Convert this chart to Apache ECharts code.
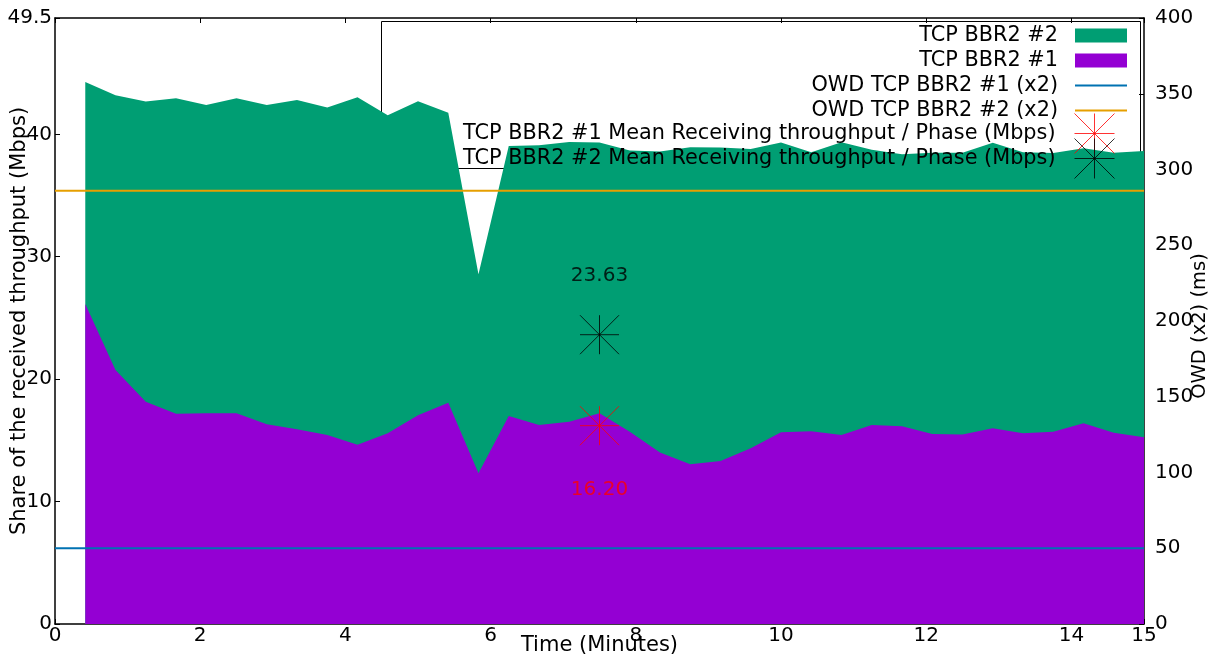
<!DOCTYPE html>
<html>
<head>
<meta charset="utf-8">
<title>TCP BBR2 share of received throughput</title>
<script src="https://cdn.jsdelivr.net/npm/echarts@6/dist/echarts.min.js"></script>
<style>
    html, body { margin: 0; padding: 0; background: #fff; }
    #chart { width: 1212px; height: 657px; }
</style>
</head>
<body>
<div id="chart"></div>
<script>
    // sample times (minutes)
    const times = [0.417, 0.833, 1.25, 1.667, 2.083, 2.5, 2.917, 3.333, 3.75, 4.167, 4.583, 5,
        5.417, 5.833, 6.25, 6.667, 7.083, 7.5, 7.917, 8.333, 8.75, 9.167, 9.583, 10,
        10.417, 10.833, 11.25, 11.667, 12.083, 12.5, 12.917, 13.333, 13.75, 14.167, 14.583, 15]

    // received throughput (Mbps)
    const bbr1 = [26.14, 20.75, 18.16, 17.18, 17.21, 17.21, 16.31, 15.9, 15.44, 14.65, 15.58, 17.05,
        18.08, 12.31, 16.99, 16.26, 16.53, 17.21, 15.71, 14.0, 13.05, 13.32, 14.35, 15.66,
        15.74, 15.44, 16.26, 16.15, 15.52, 15.47, 15.99, 15.58, 15.71, 16.4, 15.63, 15.25]
    const bbr2 = [18.14, 22.45, 24.51, 25.76, 25.19, 25.73, 26.09, 26.9, 26.74, 28.38, 25.97, 25.65,
        23.69, 16.26, 22.06, 22.84, 22.85, 22.12, 22.96, 24.6, 25.89, 25.6, 24.45, 23.67,
        22.79, 23.91, 22.47, 22.22, 22.98, 23.03, 23.31, 22.95, 22.77, 22.46, 22.87, 23.39]

    // one way delay x2 (ms)
    const owdTimes = [0, 15]
    const owd1 = [50, 50]
    const owd2 = [286, 286]

    // mean receiving throughput per phase (Mbps)
    const phaseMid = [7.5]
    const mean1 = [16.20]
    const mean2 = [23.63]

    const names = ['TCP BBR2 #2', 'TCP BBR2 #1', 'OWD TCP BBR2 #1 (x2)', 'OWD TCP BBR2 #2 (x2)',
        'TCP BBR2 #1 Mean Receiving throughput / Phase (Mbps)',
        'TCP BBR2 #2 Mean Receiving throughput / Phase (Mbps)']

    const font = 'DejaVu Sans'
    const star = 'path://M20,0V40M0,20H40M0,0L40,40M0,40L40,0'
    const zip = (xs, ys) => xs.map((x, i) => [x, ys[i]])
    // #2 is stacked on top of #1: draw the total behind, #1 in front
    const total = bbr1.map((v, i) => +(v + bbr2[i]).toFixed(2))

    const axisCommon = {
        nameLocation: 'middle',
        nameMoveOverlap: false,
        nameTextStyle: { fontSize: 21, color: '#000', fontFamily: font },
        axisLine: { show: true, onZero: false, lineStyle: { color: '#000', width: 1.5 } },
        axisTick: { show: true, inside: true, length: 5, lineStyle: { color: '#000', width: 1 } },
        axisLabel: { fontSize: 20, color: '#000', fontFamily: font },
        splitLine: { show: false }
    }

    const chart = echarts.init(document.getElementById('chart'))
    const option = {
        animation: false,
        textStyle: { fontFamily: font },
        grid: { left: 55, right: 68, top: 18, bottom: 33, outerBoundsMode: 'none', containLabel: false },
        graphic: [{
            type: 'rect', z: 0,
            shape: { x: 381.5, y: 21.5, width: 759, height: 147 },
            style: { fill: 'none', stroke: '#000', lineWidth: 1 }
        }],
        legend: [{
            orient: 'vertical', align: 'right', right: 85, top: 25, padding: 0, itemGap: 4,
            itemWidth: 64, itemHeight: 14,
            textStyle: { fontSize: 20.8, color: '#000', fontFamily: font },
            itemStyle: { borderWidth: 0 },
            data: [
                { name: names[0], icon: 'path://M0,7L0,7M12,0H64V14H12Z' },
                { name: names[1], icon: 'path://M0,7L0,7M12,0H64V14H12Z' },
                { name: names[2], icon: 'path://M0,7L0,7M12,6H64V8H12Z' },
                { name: names[3], icon: 'path://M0,7L0,7M12,6H64V8H12Z' }
            ]
        }, {
            orient: 'vertical', align: 'right', right: 95, top: 111, padding: 0, itemGap: -20,
            itemWidth: 54, itemHeight: 40,
            textStyle: { fontSize: 20.8, color: '#000', fontFamily: font },
            data: [
                { name: names[4], icon: 'path://M0,20L0,20M34,0V40M14,20H54M14,0L54,40M14,40L54,0',
                  itemStyle: { color: 'none', borderColor: '#ff0000', borderWidth: 1 } },
                { name: names[5], icon: 'path://M0,20L0,20M34,0V40M14,20H54M14,0L54,40M14,40L54,0',
                  itemStyle: { color: 'none', borderColor: '#000000', borderWidth: 1 } }
            ]
        }],
        xAxis: [
            Object.assign({}, axisCommon, {
                type: 'value', position: 'bottom', min: 0, max: 15, interval: 2,
                name: 'Time (Minutes)', nameGap: 11,
                axisLabel: Object.assign({}, axisCommon.axisLabel, { margin: 2 })
            }),
            Object.assign({}, axisCommon, {
                type: 'value', position: 'top', min: 0, max: 15, interval: 2,
                axisLabel: { show: false }
            })
        ],
        yAxis: [
            Object.assign({}, axisCommon, {
                type: 'value', position: 'left', min: 0, max: 49.5, interval: 10,
                name: 'Share of the received throughput (Mbps)', nameGap: 25,
                axisLabel: Object.assign({}, axisCommon.axisLabel, { margin: 3 })
            }),
            Object.assign({}, axisCommon, {
                type: 'value', position: 'right', min: 0, max: 400, interval: 50,
                name: 'OWD (x2) (ms)', nameGap: 46,
                nameTextStyle: { fontSize: 19.5, color: '#000', fontFamily: font, padding: [0, 10, 0, 0] },
                axisLabel: Object.assign({}, axisCommon.axisLabel, { margin: 11 })
            })
        ],
        series: [{
            name: names[0], type: 'line', data: zip(times, total), z: 2,
            symbol: 'none', color: '#009e73',
            lineStyle: { width: 0 }, areaStyle: { color: '#009e73', opacity: 1 }
        }, {
            name: names[1], type: 'line', data: zip(times, bbr1), z: 2,
            symbol: 'none', color: '#9400d3',
            lineStyle: { width: 0 }, areaStyle: { color: '#9400d3', opacity: 1 }
        }, {
            name: names[2], type: 'line', yAxisIndex: 1, data: zip(owdTimes, owd1), z: 3,
            symbol: 'none', color: '#0072b2', lineStyle: { width: 2, color: '#0072b2' }
        }, {
            name: names[3], type: 'line', yAxisIndex: 1, data: zip(owdTimes, owd2), z: 3,
            symbol: 'none', color: '#e69f00', lineStyle: { width: 2, color: '#e69f00' }
        }, {
            name: names[4], type: 'scatter', data: zip(phaseMid, mean1), z: 4,
            symbol: star, symbolSize: 39,
            itemStyle: { color: 'none', borderColor: '#ff0000', borderWidth: 1 },
            label: {
                show: true, position: 'bottom', distance: 32, fontSize: 20, color: '#ff0000',
                fontFamily: font, formatter: p => p.value[1].toFixed(2)
            }
        }, {
            name: names[5], type: 'scatter', data: zip(phaseMid, mean2), z: 4,
            symbol: star, symbolSize: 39,
            itemStyle: { color: 'none', borderColor: '#000000', borderWidth: 1 },
            label: {
                show: true, position: 'top', distance: 27, fontSize: 20, color: '#000000',
                fontFamily: font, formatter: p => p.value[1].toFixed(2)
            }
        }]
    }
    chart.setOption(option)
    window.addEventListener('resize', chart.resize)
</script>
</body>
</html>
